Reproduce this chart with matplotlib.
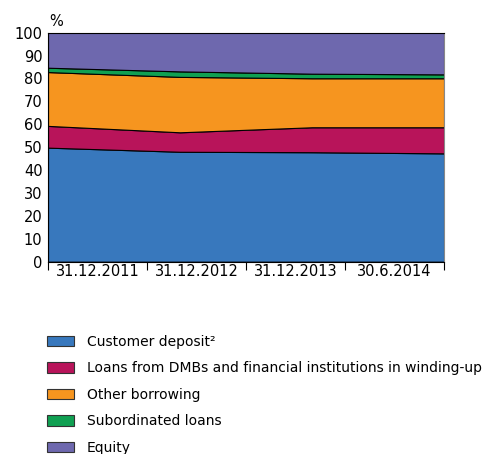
import matplotlib
matplotlib.use("Agg")
import matplotlib.pyplot as plt
import numpy as np
from matplotlib.patches import Patch

# ---------------------------------------------------------------------------
# Data (share of total liabilities, %)
# ---------------------------------------------------------------------------
dates = ["31.12.2011", "31.12.2012", "31.12.2013", "30.6.2014"]
customer_deposit = [49.8, 48.0, 47.8, 47.3]
loans_dmb = [9.5, 8.5, 10.9, 11.4]
other_borrowing = [23.5, 24.2, 21.4, 21.4]
subordinated = [1.9, 2.4, 2.0, 1.7]
equity = [15.3, 16.9, 17.9, 18.2]

labels = ["Customer deposit\u00b2",
          "Loans from DMBs and financial institutions in winding-up",
          "Other borrowing", "Subordinated loans", "Equity"]
colors = ["#3878bd", "#b8145a", "#f6951f", "#10a052", "#6e68ae"]

plt.rcParams["font.family"] = ["DejaVu Sans"]

fig = plt.figure(figsize=(4.83, 4.54), dpi=100)
ax = fig.add_axes([0.0994, 0.4236, 0.8199, 0.5044])

x = np.arange(len(dates))
ax.stackplot(x, customer_deposit, loans_dmb, other_borrowing, subordinated,
             equity, colors=colors, edgecolor="black", linewidth=0.8)

ax.set_xlim(0, len(dates) - 1)
ax.set_ylim(0, 100)
ax.set_yticks(np.arange(0, 101, 10))
ax.tick_params(axis="y", length=0, labelsize=10.5, pad=4)

# category boundaries as ticks, labels centred between them
n = len(dates)
bounds = np.linspace(0, n - 1, n + 1)
ax.set_xticks(bounds)
ax.set_xticklabels([])
ax.set_xticks((bounds[:-1] + bounds[1:]) / 2, minor=True)
ax.set_xticklabels(dates, minor=True)
ax.tick_params(axis="x", which="major", length=6, width=0.8, direction="out")
ax.tick_params(axis="x", which="minor", length=0, labelsize=10.5, pad=2)

for s in ax.spines.values():
    s.set_linewidth(0.8)
ax.spines["right"].set_color("#888888")

fig.text(0.103, 0.952, "%", fontsize=10.5, ha="left", va="center")

handles = [Patch(facecolor=c, edgecolor="#333333", linewidth=0.8) for c in colors]
fig.legend(handles, labels, loc="upper left", bbox_to_anchor=(0.085, 0.275),
           frameon=False, fontsize=10, handlelength=2.0, handleheight=0.8,
           handletextpad=0.9, labelspacing=0.9, borderaxespad=0)

fig.savefig("out.png", dpi=100)
